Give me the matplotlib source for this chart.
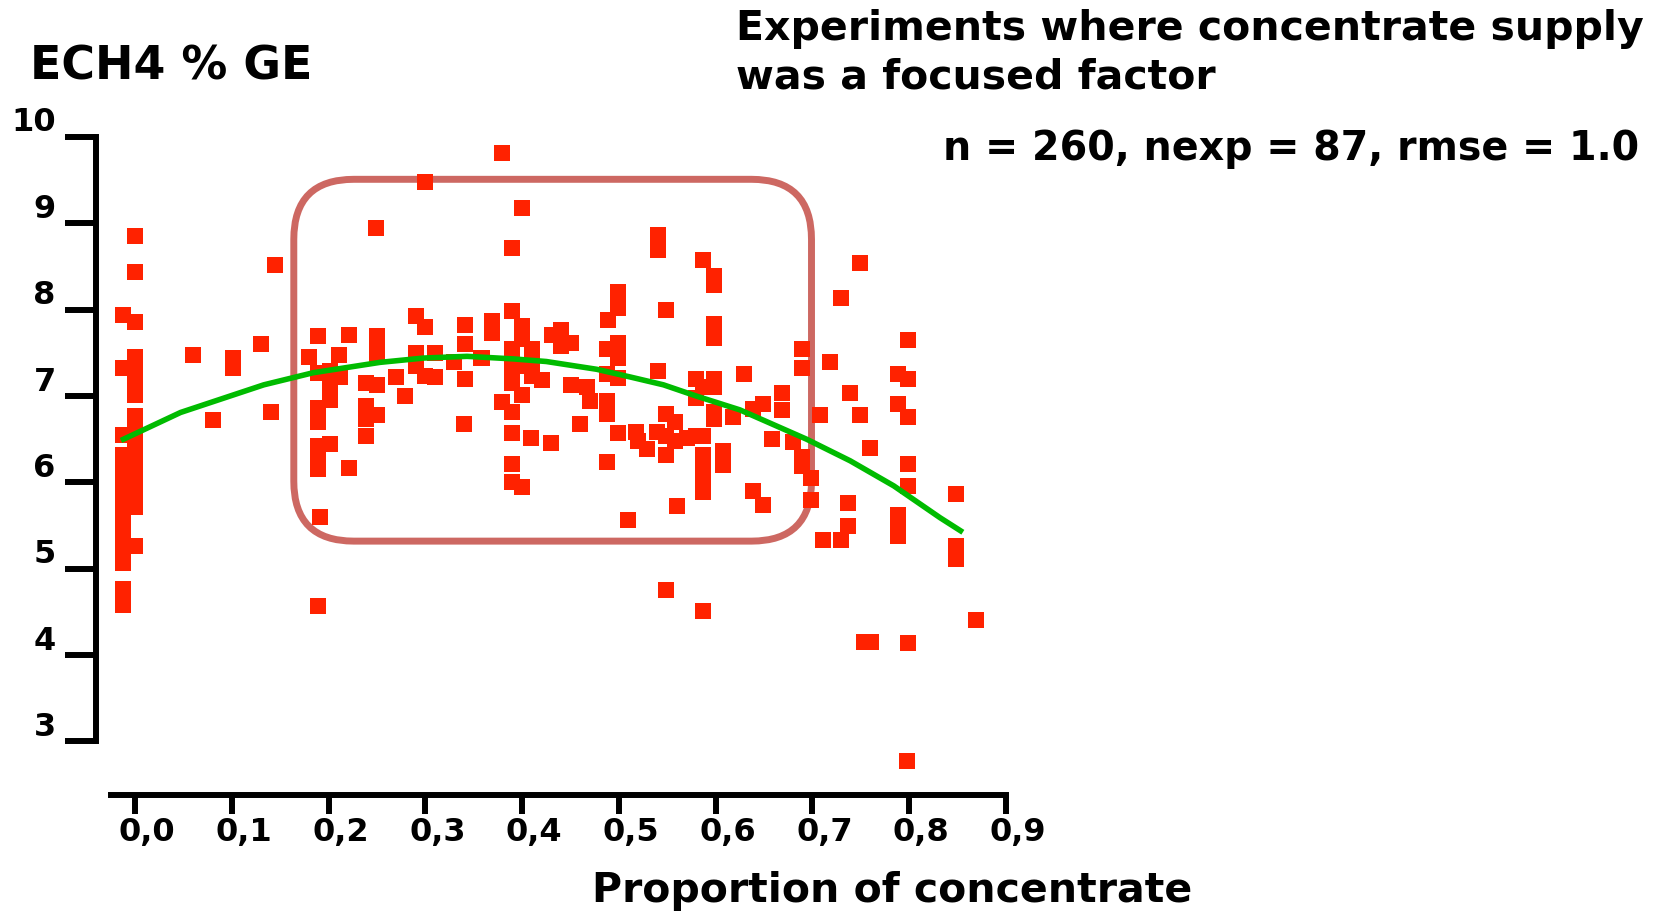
import matplotlib
matplotlib.use('Agg')
import matplotlib.pyplot as plt
from matplotlib.patches import FancyBboxPatch
from matplotlib.transforms import ScaledTranslation

# observations: proportion of concentrate vs ECH4 (% of GE)
conc = [
    -0.012, -0.012, -0.012, -0.012, -0.012, -0.012, -0.012, -0.012, -0.012,
    -0.012, -0.012, -0.012, -0.012, -0.012, -0.012, -0.012, -0.012,
    0.0, 0.0, 0.0, 0.0, 0.0, 0.0, 0.0, 0.0, 0.0, 0.0, 0.0, 0.0, 0.0, 0.0,
    0.0, 0.0, 0.0, 0.0, 0.0,
    0.060, 0.101, 0.101, 0.130, 0.081, 0.140, 0.145,
    0.300, 0.249, 0.189, 0.221, 0.250, 0.250, 0.250, 0.180, 0.211, 0.189,
    0.201, 0.201, 0.212, 0.239, 0.250, 0.270, 0.279, 0.201, 0.189, 0.189,
    0.239, 0.239, 0.239, 0.250, 0.189, 0.201, 0.189, 0.189, 0.221, 0.191,
    0.189, 0.290, 0.300, 0.290, 0.290, 0.310, 0.300, 0.310, 0.330, 0.341,
    0.341, 0.341, 0.340, 0.357,
    0.379, 0.400, 0.389, 0.540, 0.540, 0.499, 0.499, 0.489, 0.549, 0.389,
    0.369, 0.369, 0.400, 0.400, 0.431, 0.440, 0.450, 0.440, 0.389, 0.389,
    0.410, 0.410, 0.400, 0.410, 0.420, 0.359, 0.389, 0.400, 0.379, 0.389,
    0.450, 0.467, 0.470, 0.488, 0.499, 0.499, 0.488, 0.499, 0.488, 0.488,
    0.460, 0.389, 0.409, 0.430, 0.389, 0.389, 0.400, 0.499, 0.518, 0.520,
    0.529, 0.539, 0.549, 0.549, 0.488, 0.549, 0.540, 0.509, 0.549,
    0.587, 0.598, 0.598, 0.598, 0.598, 0.580, 0.598, 0.598, 0.580, 0.587,
    0.629, 0.558, 0.558, 0.570, 0.580, 0.587, 0.598, 0.598, 0.618, 0.639,
    0.649, 0.669, 0.669, 0.658, 0.680, 0.689, 0.689, 0.689, 0.689, 0.699,
    0.699, 0.708, 0.587, 0.587, 0.587, 0.608, 0.608, 0.587, 0.560, 0.639,
    0.649, 0.718, 0.729, 0.749, 0.739, 0.749, 0.737, 0.737, 0.711, 0.729,
    0.587,
    0.799, 0.788, 0.799, 0.788, 0.799, 0.759, 0.799, 0.799, 0.788, 0.788,
    0.788, 0.848, 0.848, 0.848, 0.869, 0.753, 0.761, 0.799, 0.798,
]
ech4 = [
    7.94, 7.32, 6.55, 6.32, 6.17, 6.05, 5.99, 5.90, 5.82,
    5.70, 5.58, 5.42, 5.24, 5.15, 5.07, 4.77, 4.58,
    8.85, 8.44, 7.86, 7.45, 7.29, 7.20, 7.11, 7.01, 6.77, 6.61, 6.50, 6.38,
    6.20, 6.11, 6.05, 5.96, 5.88, 5.71, 5.26,
    7.48, 7.44, 7.33, 7.60, 6.72, 6.82, 8.52,
    9.48, 8.95, 7.69, 7.71, 7.69, 7.56, 7.46, 7.45, 7.47, 7.27,
    7.29, 7.13, 7.22, 7.15, 7.13, 7.22, 7.00, 6.95, 6.86, 6.70,
    6.88, 6.73, 6.54, 6.78, 6.42, 6.44, 6.27, 6.15, 6.17, 5.60,
    4.57, 7.93, 7.80, 7.50, 7.35, 7.50, 7.23, 7.22, 7.39, 7.82,
    7.60, 7.20, 6.68, 7.44,
    9.81, 9.18, 8.72, 8.86, 8.69, 8.20, 8.02, 7.88, 8.00, 7.98,
    7.87, 7.73, 7.81, 7.66, 7.71, 7.77, 7.61, 7.58, 7.54, 7.33,
    7.54, 7.40, 7.35, 7.23, 7.19, 7.44, 7.15, 7.01, 6.93, 6.81,
    7.13, 7.10, 6.94, 7.54, 7.62, 7.44, 7.25, 7.21, 6.94, 6.79,
    6.68, 6.57, 6.51, 6.46, 6.21, 6.00, 5.95, 6.57, 6.58, 6.48,
    6.39, 6.58, 6.54, 6.32, 6.24, 6.79, 7.29, 5.57, 4.75,
    8.57, 8.39, 8.29, 7.83, 7.67, 7.20, 7.20, 7.11, 6.98, 7.11,
    7.25, 6.70, 6.48, 6.52, 6.54, 6.54, 6.81, 6.73, 6.76, 6.85,
    6.91, 7.03, 6.84, 6.50, 6.47, 7.54, 7.33, 6.30, 6.19, 6.05,
    5.80, 6.78, 6.32, 6.17, 6.05, 6.36, 6.20, 5.89, 5.73, 5.90,
    5.74, 7.39, 8.13, 8.54, 7.03, 6.78, 5.76, 5.49, 5.33, 5.33,
    4.51,
    7.65, 7.25, 7.20, 6.91, 6.76, 6.40, 6.21, 5.96, 5.62, 5.50,
    5.38, 5.87, 5.26, 5.11, 4.41, 4.15, 4.15, 4.14, 2.77,
]

# fitted curve
fit_x = [-0.012, 0.047, 0.133, 0.184, 0.253, 0.298, 0.343, 0.391, 0.425,
         0.477, 0.512, 0.546, 0.580, 0.625, 0.694, 0.739, 0.784, 0.832, 0.853]
fit_y = [6.50, 6.81, 7.13, 7.27, 7.39, 7.44, 7.46, 7.43, 7.40,
         7.31, 7.22, 7.13, 7.00, 6.84, 6.50, 6.25, 5.96, 5.59, 5.44]

x_ticks = [0.0, 0.1, 0.2, 0.3, 0.4, 0.5, 0.6, 0.7, 0.8, 0.9]
x_labels = ['0,0', '0,1', '0,2', '0,3', '0,4', '0,5', '0,6', '0,7', '0,8', '0,9']
y_ticks = [3, 4, 5, 6, 7, 8, 9, 10]

# highlighted region (data units)
box_x0, box_x1 = 0.164, 0.699
box_y0, box_y1 = 5.32, 9.51

plt.rcParams['font.family'] = 'DejaVu Sans'
plt.rcParams['font.weight'] = 'bold'

fig = plt.figure(figsize=(16.73, 9.14), dpi=100)
ax = fig.add_axes([96 / 1673, 119 / 914, 910 / 1673, 658 / 914])
ax.set_xlim(-0.0404, 0.9)
ax.set_ylim(2.38, 10)

# keep rounded corners circular on screen
px_aspect = (910 / 0.9404) / (658 / 7.62)
box = FancyBboxPatch((box_x0, box_y0), box_x1 - box_x0, box_y1 - box_y0,
                     boxstyle='round,pad=0,rounding_size=0.062',
                     mutation_aspect=px_aspect,
                     fill=False, edgecolor='#CD6862', linewidth=5, zorder=1)
ax.add_patch(box)

ax.scatter(conc, ech4, marker='s', s=120, color='#FF2200', linewidths=0,
           zorder=2, clip_on=False)
ax.plot(fit_x, fit_y, color='#00BB00', linewidth=4, zorder=3)

for side in ['top', 'right']:
    ax.spines[side].set_visible(False)
ax.spines['left'].set_linewidth(4.3)
ax.spines['bottom'].set_linewidth(4.3)
ax.spines['left'].set_bounds(3, 10)
ax.spines['bottom'].set_bounds(-0.025, 0.9)

ax.set_xticks(x_ticks)
ax.set_xticklabels(x_labels)
ax.set_yticks(y_ticks)
ax.tick_params(axis='y', length=22, width=4.3, pad=7, labelsize=23)
ax.tick_params(axis='x', length=14, width=4.3, pad=2, labelsize=23)

# labels sit a little off their ticks in the original
up = ScaledTranslation(0, 0.175, fig.dpi_scale_trans)
right = ScaledTranslation(0.12, 0, fig.dpi_scale_trans)
for lab in ax.get_yticklabels():
    lab.set_transform(lab.get_transform() + up)
for lab in ax.get_xticklabels():
    lab.set_transform(lab.get_transform() + right)

fig.text(30 / 1673, 1 - 67 / 914, 'ECH4 % GE', fontsize=33, fontweight='bold',
         ha='left', va='center')
fig.text(892 / 1673, 1 - 891 / 914, 'Proportion of concentrate', fontsize=29.5,
         fontweight='bold', ha='center', va='center')
fig.text(736 / 1673, 1 - 9 / 914,
         'Experiments where concentrate supply\nwas a focused factor',
         fontsize=29.5, fontweight='bold', ha='left', va='top', linespacing=1.27)
fig.text(943 / 1673, 1 - 149 / 914, 'n = 260, nexp = 87, rmse = 1.0',
         fontsize=28.5, fontweight='bold', ha='left', va='center')

fig.savefig('out.png', dpi=100)
